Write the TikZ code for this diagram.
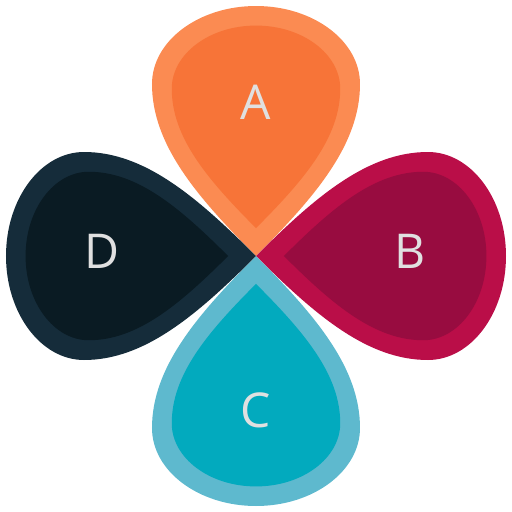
\documentclass[tikz,border=0pt]{standalone}
\usepackage{fontspec}
\setmainfont{Open Sans}
\usepackage{xcolor}
\usetikzlibrary{positioning}

\definecolor{orangeout}{RGB}{251,139,82}
\definecolor{orangein}{RGB}{247,116,56}
\definecolor{crimsonout}{RGB}{186,14,72}
\definecolor{crimsonin}{RGB}{152,12,64}
\definecolor{tealout}{RGB}{94,185,206}
\definecolor{tealin}{RGB}{2,170,190}
\definecolor{navyout}{RGB}{21,44,58}
\definecolor{navyin}{RGB}{10,27,35}
\definecolor{lettergray}{RGB}{224,224,224}

% one petal, tip at the origin, pointing up
\newcommand\petaloutline{(0,0) .. controls (-60,60) and (-104,112) .. (-104,172)
  .. controls (-104,215) and (-57.4,250) .. (0,250)
  .. controls (57.4,250) and (104,215) .. (104,172)
  .. controls (104,112) and (60,60) .. (0,0) -- cycle}

\begin{document}
\begin{tikzpicture}[
  x=1pt, y=1pt,
  letter/.style={text=lettergray,font=\fontsize{48}{48}\selectfont,inner sep=0pt},
  inset/.style={shift={(0,147)},scale=0.81,shift={(0,-147)}}
]
\useasboundingbox (-256,-256) rectangle (256,256);
\foreach \ang/\outer/\inner in {0/orangeout/orangein,
    -90/crimsonout/crimsonin, 180/tealout/tealin, 90/navyout/navyin}{
  \begin{scope}[rotate=\ang]
    \fill[\outer] \petaloutline;
    \fill[\inner,inset] \petaloutline;
  \end{scope}
}
% letters
\node[letter] (A) at (0,154) {A};
\node[letter] (B) at (154,5) {B};
\node[letter] (C) at (0,-154) {C};
\node[letter] (D) at (-154,5) {D};
\end{tikzpicture}
\end{document}
